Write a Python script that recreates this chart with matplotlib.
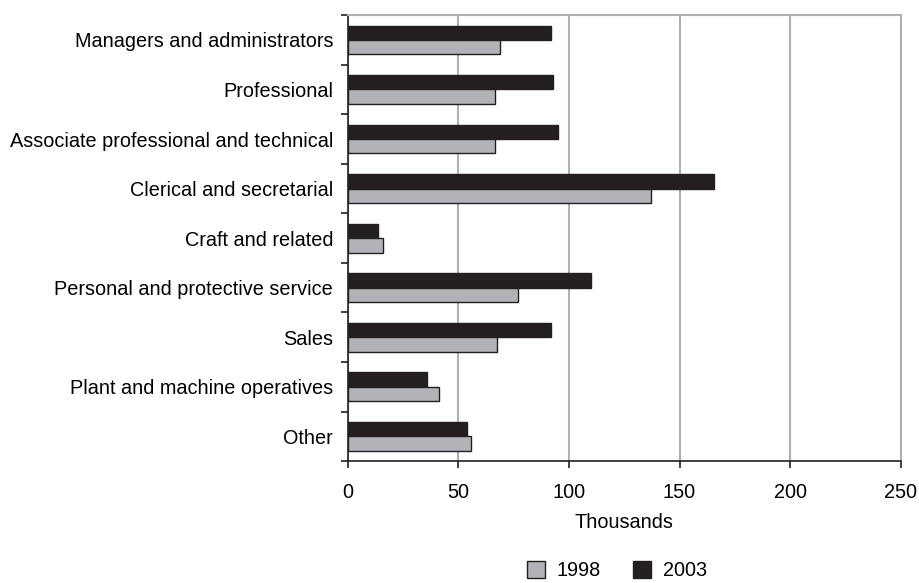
import numpy as np
import matplotlib
matplotlib.use("Agg")
import matplotlib.pyplot as plt

categories = ["Managers and administrators", "Professional",
              "Associate professional and technical", "Clerical and secretarial",
              "Craft and related", "Personal and protective service", "Sales",
              "Plant and machine operatives", "Other"]
v1998 = [69.0, 66.6, 66.5, 136.9, 16.0, 77.0, 67.3, 41.4, 55.7]
v2003 = [92.1, 93.0, 95.0, 165.5, 13.7, 109.9, 92.1, 35.9, 54.1]
xticks = [0, 50, 100, 150, 200, 250]

plt.rcParams['font.family'] = ['Liberation Sans', 'DejaVu Sans']
plt.rcParams['font.size'] = 14.3

dark = "#231f20"
grey = "#b1b3b6"

fig = plt.figure(figsize=(9.2, 5.83), dpi=100)
ax = fig.add_axes([0.378, 0.209, 0.601, 0.765])

y = np.arange(len(categories))
h = 0.29
ax.barh(y - h / 2, v2003, height=h, color=dark, edgecolor=dark, linewidth=1, label="2003", zorder=3)
ax.barh(y + h / 2, v1998, height=h, color=grey, edgecolor=dark, linewidth=1, label="1998", zorder=3)

ax.set_xlim(0, 250)
ax.set_ylim(len(categories) - 0.5, -0.5)
ax.set_xticks(xticks)
ax.xaxis.grid(True, color="#b0b0b0", linewidth=1.5, zorder=0)

# labels at centres, ticks at category boundaries
ax.set_yticks(np.arange(-0.5, len(categories), 1))
ax.set_yticklabels([])
ax.set_yticks(y, minor=True)
ax.set_yticklabels(categories, minor=True)
ax.tick_params(axis="y", which="minor", length=0, pad=10.5)
ax.tick_params(axis="y", which="major", length=5, width=1.2, color=dark)
ax.tick_params(axis="x", length=5, width=1.2, color=dark, pad=11)

for s in ["left", "bottom"]:
    ax.spines[s].set_color(dark)
    ax.spines[s].set_linewidth(1.2)
for s in ["top", "right"]:
    ax.spines[s].set_color("#b0b0b0")
    ax.spines[s].set_linewidth(1.5)

ax.set_xlabel("Thousands", labelpad=8)

handles, labels = ax.get_legend_handles_labels()
fig.legend(handles[::-1], labels[::-1], loc="center", bbox_to_anchor=(0.6707, 0.0214),
           ncol=2, frameon=False, handlelength=0.92, handleheight=0.92,
           handletextpad=0.6, columnspacing=1.6, borderaxespad=0, borderpad=0)

fig.savefig("out.png", dpi=100)
